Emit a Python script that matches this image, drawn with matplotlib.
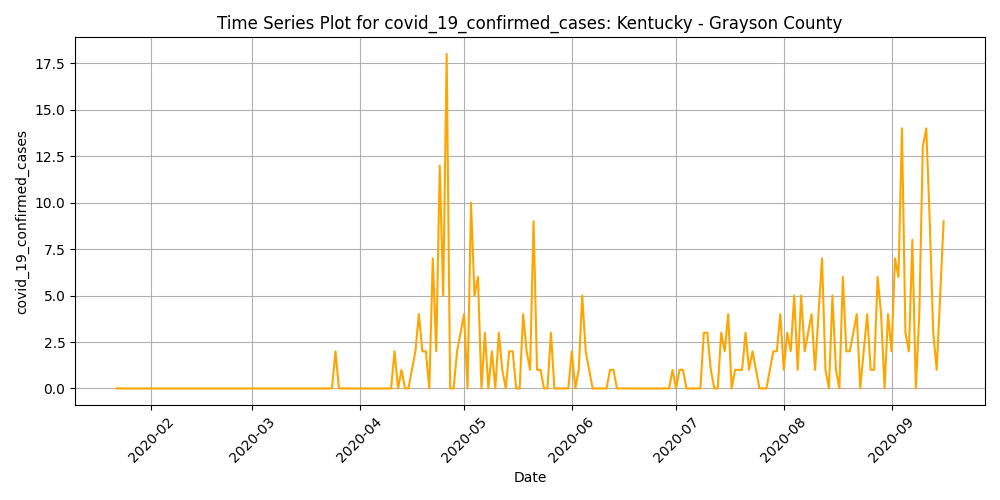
import matplotlib
matplotlib.use("Agg")
import matplotlib.pyplot as plt
import pandas as pd

start_date = "2020-01-22"
cases = (
    [0] * 63 +
    [2] +
    [0] * 16 +
    [2, 0, 1, 0, 0, 1, 2, 4, 2, 2, 0, 7, 2, 12, 5, 18, 0, 0, 2, 3,
     4, 0, 10, 5, 6, 0, 3, 0, 2, 0, 3, 1, 0, 2, 2, 0, 0, 4, 2, 1,
     9, 1, 1, 0, 0, 3, 0, 0, 0, 0, 0, 2, 0, 1, 5, 2, 1, 0, 0, 0,
     0, 0, 1, 1] +
    [0] * 16 +
    [1, 0, 1, 1, 0, 0, 0, 0, 0, 3, 3, 1, 0, 0, 3, 2, 4, 0, 1, 1,
     1, 3, 1, 2, 1, 0, 0, 0, 1, 2, 2, 4, 1, 3, 2, 5, 1, 5, 2, 3,
     4, 1, 4, 7, 1, 0, 5, 1, 0, 6, 2, 2, 3, 4, 0, 2, 4, 1, 1, 6,
     4, 0, 4, 2, 7, 6, 14, 3, 2, 8, 0, 4, 13, 14, 9, 3, 1, 5, 9]
)
dates = pd.date_range(start_date, periods=len(cases), freq="D")

fig, ax = plt.subplots(figsize=(10, 5), dpi=100)
ax.plot(dates, cases, color="orange")
ax.set_title("Time Series Plot for covid_19_confirmed_cases: Kentucky - Grayson County")
ax.set_xlabel("Date")
ax.set_ylabel("covid_19_confirmed_cases")
ax.grid(True)
plt.setp(ax.get_xticklabels(), rotation=45)
fig.tight_layout()
fig.savefig("out.png")
